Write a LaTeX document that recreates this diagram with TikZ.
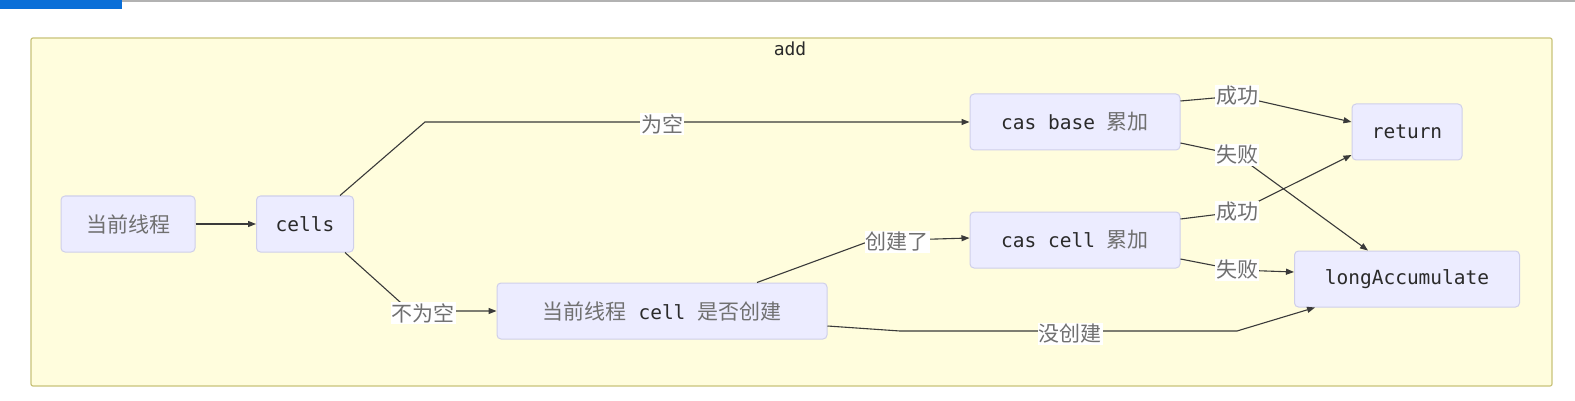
\documentclass[tikz,border=0pt]{standalone}
\usepackage{fontspec}
\setmonofont{DejaVu Sans Mono}
\newfontfamily\cjk{Noto Sans CJK SC}
\usetikzlibrary{arrows.meta}
\definecolor{nodefill}{HTML}{ECECFF}
\definecolor{nodeline}{HTML}{CFCFEA}
\definecolor{clusterfill}{HTML}{FFFDDD}
\definecolor{clusterline}{HTML}{C9C37A}
\definecolor{cjkgray}{HTML}{707070}
\definecolor{monotext}{HTML}{2A2A2A}
\definecolor{edgecol}{HTML}{3A3A3A}
\definecolor{tabblue}{HTML}{0A6FD8}
\newcommand{\zh}[1]{{\cjk\fontsize{21}{22}\selectfont\color{cjkgray}#1}}
\tikzset{
  box/.style={draw=nodeline, fill=nodefill, rounded corners=4pt, line width=1pt,
    minimum height=56pt, inner sep=0pt, text=monotext,
    font=\ttfamily\fontsize{19.5}{22}\selectfont},
  lbl/.style={fill=white, inner sep=1pt, text=cjkgray,
    font=\cjk\fontsize{21}{22}\selectfont},
  arr/.style={draw=edgecol, line width=1.1pt, -{Triangle[length=8pt,width=6pt]}}
}
\begin{document}
\begin{tikzpicture}[x=1pt,y=-1pt]
\useasboundingbox (0,0) rectangle (1575,401);
\fill[white] (0,0) rectangle (1575,401);
% top bar
\fill[gray!60] (0,0) rectangle (1575,2);
\fill[tabblue] (0,0) rectangle (122,9);
% cluster
\draw[clusterline, fill=clusterfill, line width=1.2pt, rounded corners=2pt] (31,38) rectangle (1552,386);
\node[text=monotext, font=\ttfamily\fontsize{18}{20}\selectfont] (title) at (790,49) {add};
% nodes
\node[box, minimum width=134pt] (cur) at (128,224) {\zh{当前线程}};
\node[box, minimum width=97pt] (cells) at (305,224) {cells};
\node[box, minimum width=210pt] (cbase) at (1075,122) {cas base \zh{累加}};
\node[box, minimum width=110pt] (ret) at (1407,132) {return};
\node[box, minimum width=210pt] (ccell) at (1075,240) {cas cell \zh{累加}};
\node[box, minimum width=225pt] (acc) at (1407,279) {longAccumulate};
\node[box, minimum width=330pt] (cc) at (662,311) {\zh{当前线程} cell \zh{是否创建}};
% edges
\draw[arr] (cur) -- (cells);
\draw[arr] ([xshift=35pt]cells.north) -- (425,122) -- (cbase.west);
\draw[arr] ([xshift=40pt]cells.south) -- (410,311) -- (cc.west);
\draw[arr] ([xshift=95pt]cc.north) -- (870,241) -- ([yshift=2pt]ccell.west);
\draw[arr] ([yshift=-15pt]cc.east) -- (900,331) -- (1237,331) -- ([xshift=-92pt]acc.south);
\draw[arr] ([yshift=21pt]cbase.east) -- (1237,96) -- ([yshift=10pt]ret.west);
\draw[arr] ([yshift=-21pt]cbase.east) -- (1237,155) -- ([xshift=-39pt]acc.north);
\draw[arr] ([yshift=21pt]ccell.east) -- (1237,212) -- ([yshift=-23pt]ret.west);
\draw[arr] ([yshift=-19pt]ccell.east) -- (1237,270) -- ([yshift=7pt]acc.west);
% labels
\node[lbl] (l1) at (662,124) {为空};
\node[lbl] (l2) at (423,313) {不为空};
\node[lbl] (l3) at (897,242) {创建了};
\node[lbl] (l4) at (1070,334) {没创建};
\node[lbl] (l5) at (1237,96) {成功};
\node[lbl] (l6) at (1237,155) {失败};
\node[lbl] (l7) at (1237,212) {成功};
\node[lbl] (l8) at (1237,270) {失败};
\end{tikzpicture}
\end{document}
